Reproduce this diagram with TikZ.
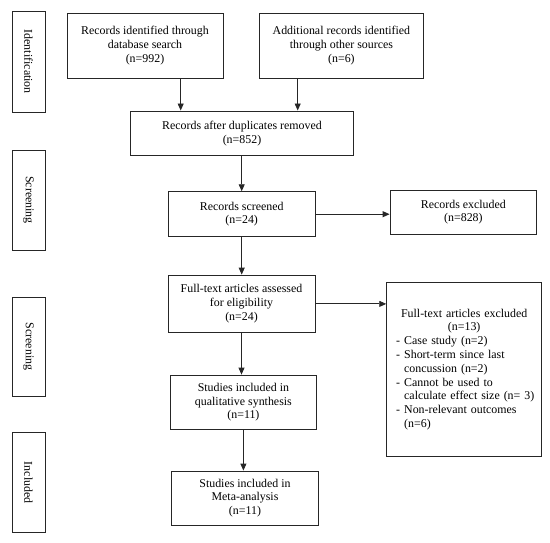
\documentclass[tikz,border=0pt]{standalone}
\usepackage{fontspec}
\setmainfont{Liberation Serif}
\usetikzlibrary{arrows.meta}
\tikzset{
  box/.style={draw=black!85, line width=0.9pt, align=center, inner sep=2pt,
    font=\fontsize{11.9}{13.8}\selectfont},
  side/.style={box, rotate=-90, minimum width=100pt, minimum height=33pt},
  arr/.style={-{Triangle[length=7pt,width=6pt]}, line width=0.9pt, draw=black!85}
}
\begin{document}
\begin{tikzpicture}[x=1pt,y=-1pt]
\useasboundingbox (0,0) rectangle (550,542);
% side labels
\node[side, minimum width=101.7pt] (sid) at (28.5,61.8) {Identification};
\node[side] (ss1) at (28.5,200) {Screening};
\node[side, minimum width=99pt] (ss2) at (28.5,346.5) {Screening};
\node[side] (sinc) at (28.5,482.7) {Included};
% boxes
\node[box, minimum width=156pt, minimum height=65pt] (A) at (145,45.5)
  {Records identified through\\database search\\(n=992)};
\node[box, minimum width=164.7pt, minimum height=65pt] (B) at (341.4,45.5)
  {Additional records identified\\through other sources\\(n=6)};
\node[box, minimum width=222.3pt, minimum height=44.7pt] (C) at (242,133.3)
  {Records after duplicates removed\\(n=852)};
\node[box, minimum width=146.7pt, minimum height=45pt] (D) at (241.7,214.2)
  {Records screened\\(n=24)};
\node[box, minimum width=146.7pt, minimum height=44.3pt] (E) at (463.4,212.2)
  {Records excluded\\(n=828)};
\node[box, minimum width=147pt, minimum height=57.7pt] (F) at (241.5,303.9)
  {Full-text articles assessed\\for eligibility\\(n=24)};
\node[box, minimum width=155pt, minimum height=173.3pt, text width=150pt, align=left, inner xsep=0pt] (G) at (464.2,369.4)
  {\makebox[150pt][c]{Full-text articles excluded}\\
   \makebox[150pt][c]{(n=13)}\\
   \mbox{\hspace*{7pt}\makebox[8pt][l]{-}Case study (n=2)}\\
   \mbox{\hspace*{7pt}\makebox[8pt][l]{-}Short-term since last}\\
   \mbox{\hspace*{15pt}concussion (n=2)}\\
   \mbox{\hspace*{7pt}\makebox[8pt][l]{-}Cannot be used to}\\
   \mbox{\hspace*{15pt}calculate effect size (n= 3)}\\
   \mbox{\hspace*{7pt}\makebox[8pt][l]{-}Non-relevant outcomes}\\
   \mbox{\hspace*{15pt}(n=6)}};
\node[box, minimum width=146.7pt, minimum height=54.3pt] (H) at (243.4,402.2)
  {Studies included in\\qualitative synthesis\\(n=11)};
\node[box, minimum width=146.7pt, minimum height=54pt] (I) at (245,498)
  {Studies included in\\Meta-analysis\\(n=11)};
% connectors
\draw[arr] ([xshift=35.7pt]A.south) -- ([xshift=35.7pt]A.south |- C.north);
\draw[arr] ([xshift=-43.7pt]B.south) -- ([xshift=-43.7pt]B.south |- C.north);
\draw[arr] (C.south -| D.north) -- (D.north);
\draw[arr] (D.east) -- (D.east -| E.west);
\draw[arr] (D.south) -- (D.south |- F.north);
\draw[arr] (F.east) -- (F.east -| G.west);
\draw[arr] (F.south) -- (F.south |- H.north);
\draw[arr] (H.south) -- (H.south |- I.north);
\end{tikzpicture}
\end{document}
